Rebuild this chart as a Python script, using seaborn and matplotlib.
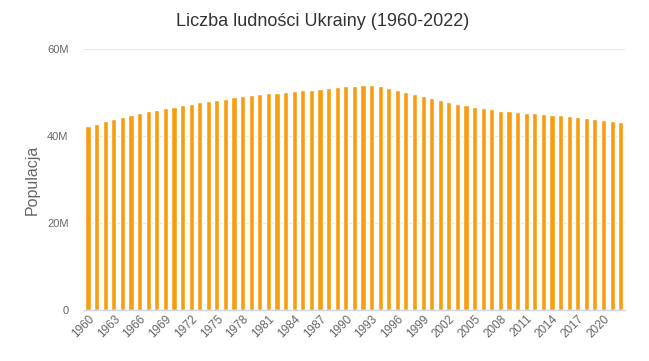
import pandas as pd
import matplotlib
matplotlib.use("Agg")
import matplotlib.pyplot as plt
import seaborn as sns
from matplotlib.ticker import FuncFormatter

# Data (population in millions)
years = list(range(1960, 2023))
population = [
    42.37, 42.83, 43.52, 43.98, 44.44, 44.90, 45.36, 45.82, 46.05, 46.51,
    46.74, 47.20, 47.43, 47.89, 48.11, 48.34, 48.57, 48.97, 49.27, 49.50,
    49.73, 49.89, 49.96, 50.19, 50.42, 50.57, 50.65, 50.87, 51.10, 51.33,
    51.49, 51.56, 51.72, 51.72, 51.49, 51.03, 50.57, 50.11, 49.66, 49.20,
    48.74, 48.28, 47.82, 47.36, 47.13, 46.67, 46.44, 46.28, 45.82, 45.82,
    45.52, 45.29, 45.29, 45.06, 44.83, 44.83, 44.60, 44.37, 44.14, 43.91,
    43.68, 43.45, 43.22,
]
tick_years = [str(y) for y in range(1960, 2023, 3)]

df = pd.DataFrame({"Rok": [str(y) for y in years],
                   "Populacja": [p * 1e6 for p in population]})

sns.set_theme(style="white")
plt.rcParams["font.family"] = ["Liberation Sans", "DejaVu Sans"]

fig = plt.figure(figsize=(6.49, 3.61), dpi=100)
ax = fig.add_axes([0.129, 0.141, 0.834, 0.723])

sns.barplot(data=df, x="Rok", y="Populacja", color="#f79d12",
            saturation=1, width=0.6, ax=ax)

ax.set_xlim(-0.5, len(years) - 0.5)
ax.set_ylim(0, 60e6)
ax.set_yticks([0, 20e6, 40e6, 60e6])
ax.yaxis.set_major_formatter(FuncFormatter(
    lambda v, p: "0" if v == 0 else f"{int(v / 1e6)}M"))
ax.grid(axis="y", color="#e6e6e6", linewidth=0.8)
ax.set_axisbelow(True)

pos = [years.index(int(t)) for t in tick_years]
ax.set_xticks(pos)
ax.set_xticklabels(tick_years, rotation=45, ha="right",
                   rotation_mode="anchor")
ax.tick_params(axis="x", labelsize=8.5, colors="#666666", length=0, pad=2)
ax.tick_params(axis="y", labelsize=8, colors="#666666", length=0, pad=11)

for side in ["top", "right", "left"]:
    ax.spines[side].set_visible(False)
ax.spines["bottom"].set_color("#ccd6eb")
ax.spines["bottom"].set_linewidth(1)

ax.set_xlabel("")
ax.set_ylabel("Populacja", fontsize=11.5, color="#666666", labelpad=5)
fig.suptitle("Liczba ludności Ukrainy (1960-2022)", fontsize=13,
             color="#333333", x=0.497, y=0.965)

fig.savefig("out.png", dpi=100)
